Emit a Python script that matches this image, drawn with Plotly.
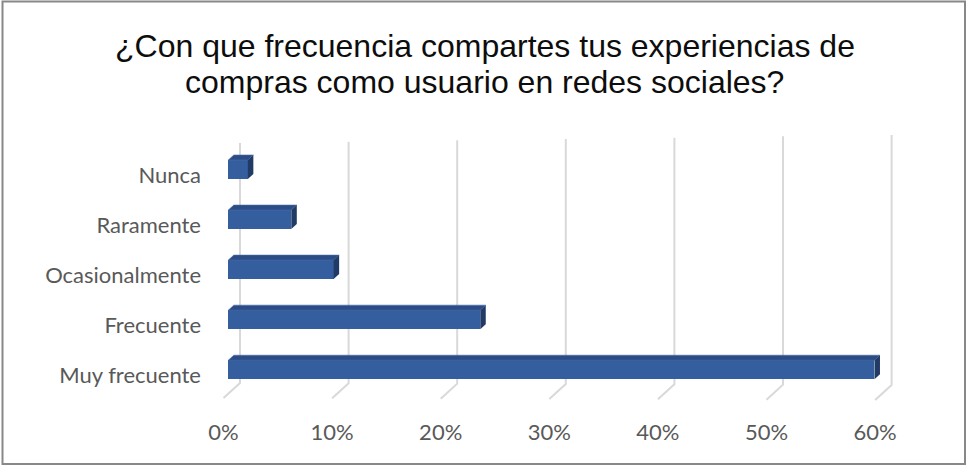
import plotly.graph_objects as go

# Survey answers, listed bottom to top as they appear on the chart
categories = ["Muy frecuente", "Frecuente", "Ocasionalmente", "Raramente", "Nunca"]
percentages = [59.5, 23.2, 9.7, 5.8, 1.8]
tick_values = [0, 10, 20, 30, 40, 50, 60]
tick_labels = ["0%", "10%", "20%", "30%", "40%", "50%", "60%"]
title_lines = ["¿Con que frecuencia compartes tus experiencias de",
               "compras como usuario en redes sociales?"]

W, H = 967, 466
# plot-area geometry (pixels)
L, R, T, B = 205, 910, 120, 405
PX_PER_PCT = 10.86           # horizontal scale
PX_PER_CAT = 50.05           # distance between category rows
X0_PX = 228.3                # pixel of 0% on the bar front plane
Y0_PX = 369.7                # pixel of the first category centre

x_range = [(L - X0_PX) / PX_PER_PCT, (R - X0_PX) / PX_PER_PCT]
y_range = [(Y0_PX - B) / PX_PER_CAT, (Y0_PX - T) / PX_PER_CAT]


def dx(px):
    return px / PX_PER_PCT


def dy(px):
    return px / PX_PER_CAT


def paper_x(px):
    return (px - L) / (R - L)


def paper_y(px):
    return (B - px) / (B - T)


# oblique depth vectors
bar_depth = (dx(5.5), dy(5.0))          # thickness of each bar
wall_shift = dx(11.7)                   # back wall relative to bar plane
front_shift = -dx(4.8)                  # front edge of floor relative to bar plane
bar_h = dy(19)

ypos = list(range(len(categories)))

fig = go.Figure()

# back-wall gridlines with their floor continuation (base axes, drawn first)
gx, gy = [], []
for v in tick_values:
    frac = v / tick_values[-1]
    top = dy(Y0_PX - (143 - 8 * frac))
    wall_bottom = dy(Y0_PX - (383 + 2 * frac))
    floor_front = dy(Y0_PX - (398 + 2 * frac))
    xb = v + wall_shift
    gx += [xb, xb, v + front_shift, None]
    gy += [top, wall_bottom, floor_front, None]
fig.add_trace(go.Scatter(x=gx, y=gy, mode="lines",
                         line=dict(color="#D9D9D9", width=2),
                         hoverinfo="skip", showlegend=False))

# front faces of the bars (overlay axes, so they sit above the gridlines)
fig.add_trace(go.Bar(x=percentages, y=ypos, orientation="h", width=bar_h,
                     marker=dict(color="#355E9F", line=dict(width=0)),
                     showlegend=False, xaxis="x2", yaxis="y2",
                     hovertemplate="%{x}%<extra></extra>"))

# top and side faces of the 3-D bars
tx, ty, sx, sy = [], [], [], []
for v, c in zip(percentages, ypos):
    up = c + bar_h / 2
    lo = c - bar_h / 2
    ddx, ddy = bar_depth
    tx += [0, v, v + ddx, ddx, 0, None]
    ty += [up, up, up + ddy, up + ddy, up, None]
    sx += [v, v + ddx, v + ddx, v, v, None]
    sy += [lo, lo + ddy, up + ddy, up, lo, None]

fig.add_trace(go.Scatter(x=tx, y=ty, mode="lines", fill="toself",
                         fillcolor="#2C4C85", line=dict(width=0.6, color="#4A6DAA"),
                         hoverinfo="skip", showlegend=False,
                         xaxis="x2", yaxis="y2"))
fig.add_trace(go.Scatter(x=sx, y=sy, mode="lines", fill="toself",
                         fillcolor="#213A66", line=dict(width=0),
                         hoverinfo="skip", showlegend=False,
                         xaxis="x2", yaxis="y2"))

tick_font = dict(family="Lato, Calibri, sans-serif", size=22, color="#595959")
title_font = dict(family="Liberation Sans, Arial, sans-serif", size=32,
                  color="#0D0D0D")

hidden = dict(showgrid=False, zeroline=False, showline=False,
              showticklabels=False, fixedrange=True)

fig.update_layout(
    width=W, height=H,
    margin=dict(l=L, r=W - R, t=T, b=H - B),
    paper_bgcolor="white", plot_bgcolor="white",
    xaxis=dict(range=x_range, showgrid=False, zeroline=False, showline=False,
               tickmode="array",
               tickvals=[v + front_shift for v in tick_values],
               ticktext=tick_labels, ticks="", tickfont=tick_font,
               ticklabelstandoff=12, fixedrange=True),
    yaxis=dict(range=y_range, showgrid=False, zeroline=False, showline=False,
               tickmode="array",
               tickvals=[c - dy(5.3) for c in ypos],
               ticktext=categories, ticks="", tickfont=tick_font,
               ticklabelstandoff=3, fixedrange=True),
    xaxis2=dict(range=x_range, overlaying="x", **hidden),
    yaxis2=dict(range=y_range, overlaying="y", **hidden),
    annotations=[
        dict(text=title_lines[0], xref="paper", yref="paper",
             x=paper_x(484.5), y=paper_y(46), xanchor="center", yanchor="middle",
             showarrow=False, font=title_font),
        dict(text=title_lines[1], xref="paper", yref="paper",
             x=paper_x(484.5), y=paper_y(82), xanchor="center", yanchor="middle",
             showarrow=False, font=title_font),
    ],
    shapes=[dict(type="rect", xref="paper", yref="paper",
                 x0=paper_x(2.5), x1=paper_x(965),
                 y0=paper_y(464), y1=paper_y(1.5),
                 line=dict(color="#888888", width=2), layer="below")],
    bargap=0,
)

fig.write_html("out.html")
